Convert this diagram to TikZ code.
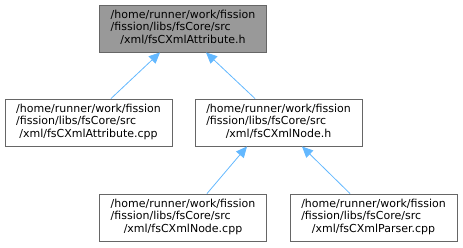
\documentclass[tikz,border=0pt]{standalone}
\usepackage{fontspec}
\setmainfont{DejaVu Sans}
\usepackage{tikz}
\usetikzlibrary{arrows.meta, positioning}
\definecolor{BoxGray}{RGB}{153,153,153}
\definecolor{LineGray}{RGB}{102,102,102}
\definecolor{EdgeBlue}{RGB}{99,184,255}
\newcommand{\fspath}[1]{\begin{tabular}{@{}l@{}}/home/runner/work/fission\\/fission/libs/fsCore/src\\\multicolumn{1}{@{}c@{}}{/xml/#1}\end{tabular}}

\begin{document}
\begin{tikzpicture}[
  x=1pt, y=-1pt,
  box/.style={rectangle, draw=LineGray, line width=0.9pt, fill=white, align=center,
              minimum width=167pt, minimum height=47pt, inner sep=0pt,
              font=\fontsize{11}{12.2}\selectfont},
  arrow/.style={{Triangle[length=11pt, width=10pt]}-, draw=EdgeBlue, line width=0.8pt}
]
\useasboundingbox (0,0) rectangle (463,247);
\node[box, fill=BoxGray] (attrh) at (183,28.5) {\fspath{fsCXmlAttribute.h}};
\node[box] (attrcpp) at (88.5,122.5) {\fspath{fsCXmlAttribute.cpp}};
\node[box] (nodeh) at (278.5,122.5) {\fspath{fsCXmlNode.h}};
\node[box] (nodecpp) at (183,217.5) {\fspath{fsCXmlNode.cpp}};
\node[box] (parsercpp) at (373.5,217.5) {\fspath{fsCXmlParser.cpp}};

\draw[arrow] ([xshift=-23pt]attrh.south) -- ([xshift=22.5pt]attrcpp.north);
\draw[arrow] ([xshift=23pt]attrh.south) -- ([xshift=-23.5pt]nodeh.north);
\draw[arrow] ([xshift=-31.5pt]nodeh.south) -- ([xshift=24pt]nodecpp.north);
\draw[arrow] ([xshift=23.5pt]nodeh.south) -- ([xshift=-23.5pt]parsercpp.north);
\end{tikzpicture}
\end{document}
